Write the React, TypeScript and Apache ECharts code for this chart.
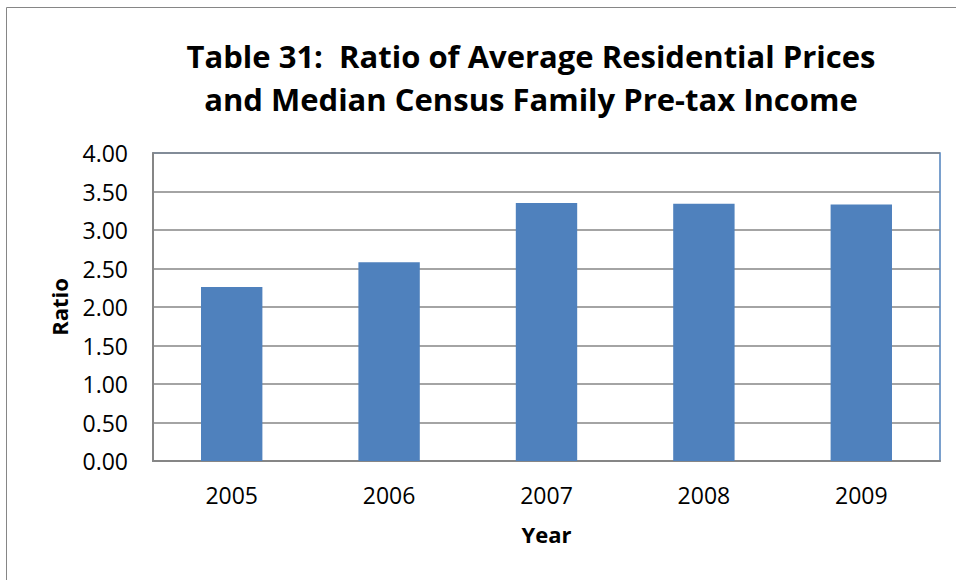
import React, { useEffect, useRef } from "react";
import * as echarts from "echarts";

const years = ["2005", "2006", "2007", "2008", "2009"];
const ratios = [2.26, 2.58, 3.35, 3.34, 3.33];
const titleLines = [
  "Table 31:  Ratio of Average Residential Prices",
  "and Median Census Family Pre-tax Income",
];
const FONT = "'Open Sans', sans-serif";

export default function App() {
  const ref = useRef<HTMLDivElement>(null);
  useEffect(() => {
    if (!ref.current) return;
    const chart = echarts.init(ref.current, undefined, { renderer: "svg" });
    chart.setOption({
      animation: false,
      backgroundColor: "#ffffff",
      textStyle: { fontFamily: FONT },
      title: {
        text: titleLines.join("\n"),
        left: 526,
        top: 29,
        textAlign: "center",
        textStyle: {
          fontFamily: FONT,
          fontSize: 31,
          fontWeight: "bold",
          color: "#000000",
          lineHeight: 43,
        },
      },
      graphic: [
        {
          type: "rect",
          shape: { x: 6.5, y: 7.5, width: 1000, height: 1000 },
          style: { fill: "none", stroke: "#868686", lineWidth: 1 },
          silent: true,
        },
      ],
      grid: {
        left: 153,
        top: 153,
        right: 16,
        bottom: 119,
        show: true,
        borderColor: "#4F81BD",
        borderWidth: 1.5,
        backgroundColor: "transparent",
      },
      xAxis: {
        type: "category",
        data: years,
        name: "Year",
        nameLocation: "middle",
        nameGap: 62,
        nameTextStyle: {
          fontFamily: FONT,
          fontSize: 22,
          fontWeight: "bold",
          color: "#000000",
        },
        axisLine: { show: true, lineStyle: { color: "#868686", width: 2 } },
        axisTick: { show: false },
        axisLabel: {
          margin: 22,
          fontFamily: FONT,
          fontSize: 23,
          color: "#000000",
        },
      },
      yAxis: {
        type: "value",
        min: 0,
        max: 4,
        interval: 0.5,
        name: "Ratio",
        nameLocation: "middle",
        nameRotate: 90,
        nameGap: 83,
        nameTextStyle: {
          fontFamily: FONT,
          fontSize: 22,
          fontWeight: "bold",
          color: "#000000",
        },
        axisLine: { show: true, lineStyle: { color: "#868686", width: 2 } },
        axisTick: { show: false },
        splitLine: { show: true, lineStyle: { color: "#868686", width: 1.5 } },
        axisLabel: {
          margin: 25,
          fontFamily: FONT,
          fontSize: 23,
          color: "#000000",
          formatter: (v: number) => v.toFixed(2),
        },
      },
      series: [
        {
          type: "bar",
          data: ratios,
          barWidth: "39%",
          itemStyle: { color: "#4F81BD" },
        },
      ],
    });
    return () => chart.dispose();
  }, []);
  return (
    <div
      ref={ref}
      style={{ position: "fixed", left: 0, top: 0, width: 956, height: 580 }}
    />
  );
}
